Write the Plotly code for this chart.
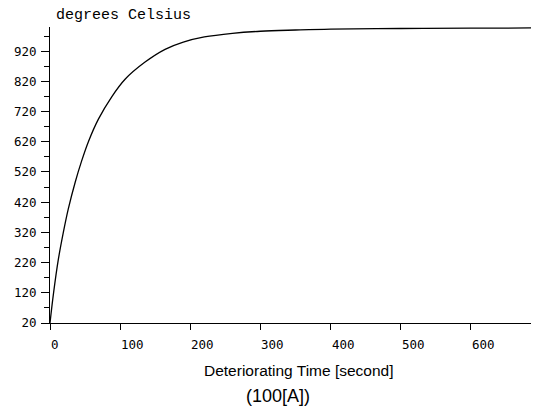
import plotly.graph_objects as go

time_s = [0, 5, 12, 19, 26, 36, 45, 55, 69, 88, 107, 135, 164, 190, 220, 260, 300, 350, 400, 500, 600, 697]
temp_c = [20, 118, 232, 320, 397, 487, 556, 622, 695, 769, 827, 883, 926, 950, 967, 979, 986, 990, 993, 995, 996, 997]
x_ticks = [0, 100, 200, 300, 400, 500, 600]
y_ticks = [20, 120, 220, 320, 420, 520, 620, 720, 820, 920]

fig = go.Figure()
fig.add_trace(go.Scatter(x=time_s, y=temp_c, mode="lines",
                         line=dict(color="black", width=1.3, shape="spline", smoothing=1.0),
                         showlegend=False))

fig.update_layout(
    width=531, height=399,
    margin=dict(l=42, r=0, t=19, b=84),
    paper_bgcolor="white", plot_bgcolor="white",
    xaxis=dict(range=[0, 697], tickvals=x_ticks, showticklabels=False,
               automargin=False,
               showgrid=False, zeroline=False, showline=True, linecolor="black", linewidth=1,
               ticks="outside", ticklen=6, tickcolor="black"),
    yaxis=dict(range=[20, 1000], tickvals=y_ticks, ticktext=[str(v) for v in y_ticks],
               automargin=False,
               showgrid=False, zeroline=False, showline=True, linecolor="black", linewidth=1,
               ticks="outside", ticklen=8, tickcolor="black", ticklabelstandoff=2,
               minor=dict(tick0=70, dtick=100, ticks="outside", ticklen=5, tickcolor="black"),
               tickfont=dict(family="DejaVu Sans Mono", size=12.5, color="black")),
)
for v in x_ticks:
    fig.add_annotation(text=str(v), xref="x", yref="paper", x=v, y=0,
                       xanchor="left", yanchor="middle", yshift=-21, xshift=-1,
                       showarrow=False,
                       font=dict(family="DejaVu Sans Mono", size=12.5, color="black"))
fig.add_annotation(text="degrees Celsius", xref="paper", yref="paper", x=0, y=1,
                   xanchor="left", yanchor="middle", xshift=4, yshift=12, showarrow=False,
                   font=dict(family="Liberation Mono", size=15, color="black"))
fig.add_annotation(text="Deteriorating Time [second]", xref="paper", yref="paper", x=0.509, y=0,
                   xanchor="center", yanchor="middle", yshift=-47, showarrow=False,
                   font=dict(family="Liberation Sans", size=15.5, color="black"))
fig.add_annotation(text="(100[A])", xref="paper", yref="paper", x=0.466, y=0,
                   xanchor="center", yanchor="middle", yshift=-73, showarrow=False,
                   font=dict(family="Liberation Sans", size=18, color="black"))
fig.write_html("out.html")
